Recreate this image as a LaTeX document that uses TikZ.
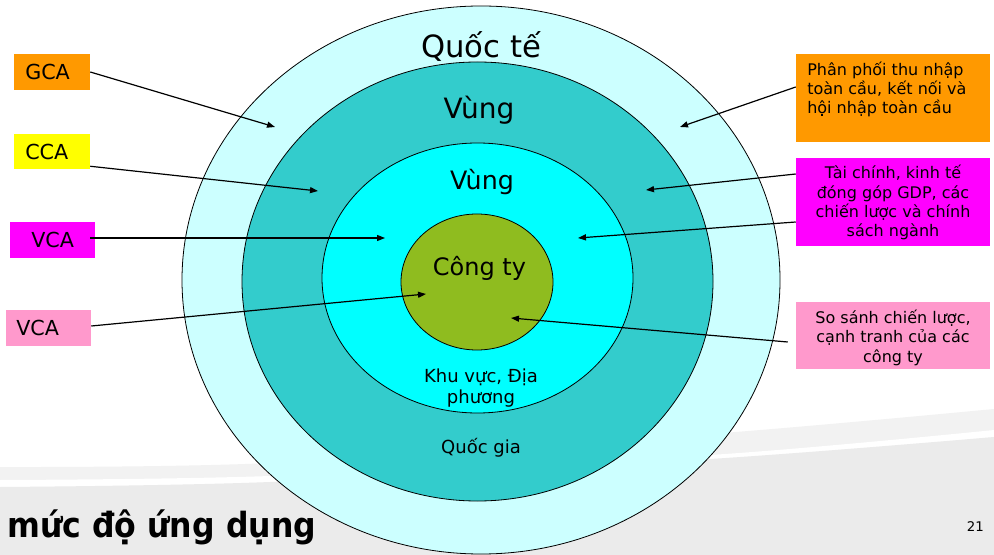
\documentclass[tikz,border=0pt]{standalone}
\usepackage{graphicx}
\usepackage{fontspec}
\setmainfont{DejaVu Sans}
\usetikzlibrary{arrows.meta,calc}
\definecolor{bgl}{HTML}{F2F2F2}
\definecolor{bgd}{HTML}{EBEBEB}
\definecolor{cOuter}{HTML}{CCFFFF}
\definecolor{cTeal}{HTML}{33CCCC}
\definecolor{cCyan}{HTML}{00FFFF}
\definecolor{cGreen}{RGB}{143,188,31}
\definecolor{cOrange}{HTML}{FF9900}
\definecolor{cYellow}{HTML}{FFFF00}
\definecolor{cMagenta}{HTML}{FF00FF}
\definecolor{cPink}{HTML}{FF99CC}
\tikzset{
  ell/.style={draw=black, line width=0.6pt},
  lbox/.style={draw=none, inner sep=0pt, minimum height=27pt},
  rbox/.style={draw=none, inner sep=0pt, minimum width=145.5pt},
  lbl/.style={inner sep=0pt, font=\fontsize{15.5}{18}\selectfont},
  rtxt/.style={inner sep=0pt, font=\fontsize{12}{14.6}\selectfont},
  conn/.style={draw=black, line width=0.9pt, -{Triangle[length=6pt,width=4.5pt]}},
}
\begin{document}
\begin{tikzpicture}[x=0.75pt,y=-0.75pt]
\useasboundingbox (0,0) rectangle (994,555);
\fill[white] (0,0) rectangle (994,555);
% background swoosh
\fill[bgl] plot[smooth] coordinates {(0,467) (270,463) (710,434) (994,409)} -- (994,555) -- (0,555) -- cycle;
\fill[white] plot[smooth] coordinates {(0,480) (270,476) (710,455) (994,430)} -- (994,555) -- (0,555) -- cycle;
\fill[bgd] plot[smooth] coordinates {(0,487) (270,482) (710,459) (994,437)} -- (994,555) -- (0,555) -- cycle;
% ellipses
\draw[ell, fill=cOuter] (481,280) ellipse [x radius=299, y radius=274];
\draw[ell, fill=cTeal] (477.5,281.5) ellipse [x radius=235.5, y radius=219.5];
\draw[ell, fill=cCyan] (477.5,278) ellipse [x radius=155.5, y radius=135];
\draw[ell, fill=cGreen] (477,282) ellipse [x radius=76, y radius=68];
% ring labels
\node[anchor=base, inner sep=0pt, font=\fontsize{23}{27}\selectfont] (qte) at (481,58) {Quốc tế};
\node[anchor=base, inner sep=0pt, font=\fontsize{21}{25}\selectfont] (vung1) at (479,119) {Vùng};
\node[anchor=base, inner sep=0pt, font=\fontsize{19}{23}\selectfont] (vung2) at (482,190) {Vùng};
\node[anchor=base, inner sep=0pt, font=\fontsize{18}{22}\selectfont] (cty) at (479.5,276) {Công ty};
\node[anchor=base, inner sep=0pt, align=center, font=\fontsize{13.5}{15.5}\selectfont] (kv) at (481,403) {Khu vực, Địa\\phương};
\node[anchor=base, inner sep=0pt, font=\fontsize{13.5}{16}\selectfont] (qg) at (481,453) {Quốc gia};
% arrow targets
\coordinate (tGlobalL) at (275,127);
\coordinate (tNatL) at (318,191);
\coordinate (tRegL) at (385,238);
\coordinate (tCoL) at (426,294);
\coordinate (tGlobalR) at (680,127);
\coordinate (tNatR) at (646,190);
\coordinate (tRegR) at (578,238);
\coordinate (tCoR) at (511,318);
% left boxes
\node[lbox, fill=cOrange, minimum width=57pt] (gca) at (52,72) {};
\node[lbl, anchor=base west] at (25,80) {GCA};
\node[lbox, fill=cYellow, minimum width=57pt, minimum height=26.25pt] (cca) at (52,151.5) {};
\node[lbl, anchor=base west] at (25,159.3) {CCA};
\node[lbox, fill=cMagenta, minimum width=63.75pt] (vcam) at (52.5,240) {};
\node[lbl, anchor=base west] at (31,247.3) {VCA};
\node[lbox, fill=cPink, minimum width=63.75pt] (vcap) at (48.5,328) {};
\node[lbl, anchor=base west] at (16,335) {VCA};
% right boxes
\node[rbox, fill=cOrange, minimum height=66pt] (rglob) at (893,98) {};
\node[rtxt, anchor=base west, align=left] at (807,114) {Phân phối thu nhập\\toàn cầu, kết nối và\\hội nhập toàn cầu};
\node[rbox, fill=cMagenta, minimum height=66pt] (rnat) at (893,202) {};
\node[rtxt, anchor=base, align=center] at (893,237) {Tài chính, kinh tế\\đóng góp GDP, các\\chiến lược và chính\\sách ngành};
\node[rbox, fill=cPink, minimum height=50.25pt] (rco) at (893,335.5) {};
\node[rtxt, anchor=base, align=center] at (893,362) {So sánh chiến lược,\\cạnh tranh của các\\công ty};
% connectors
\draw[conn] (gca.east) -- (tGlobalL);
\draw[conn] ($(cca.south east)+(0,-3)$) -- (tNatL);
\draw[conn] ($(vcam.east)+(-5,-2)$) -- (tRegL);
\draw[conn] ($(vcap.east)+(0,-2)$) -- (tCoL);
\draw[conn] ($(rglob.west)+(0,-11)$) -- (tGlobalR);
\draw[conn] ($(rnat.west)+(0,-28)$) -- (tNatR);
\draw[conn] ($(rnat.west)+(0,20)$) -- (tRegR);
\draw[conn] ($(rco.west)+(-8,6.5)$) -- (tCoR);
% title and page number
\node[anchor=base west, inner sep=0pt] (title) at (7,537) {\scalebox{0.91}[1]{\fontsize{26}{30}\selectfont\bfseries mức độ ứng dụng}};
\node[anchor=base east, inner sep=0pt, font=\fontsize{10}{12}\selectfont] (pg) at (984,531) {21};
\end{tikzpicture}
\end{document}
